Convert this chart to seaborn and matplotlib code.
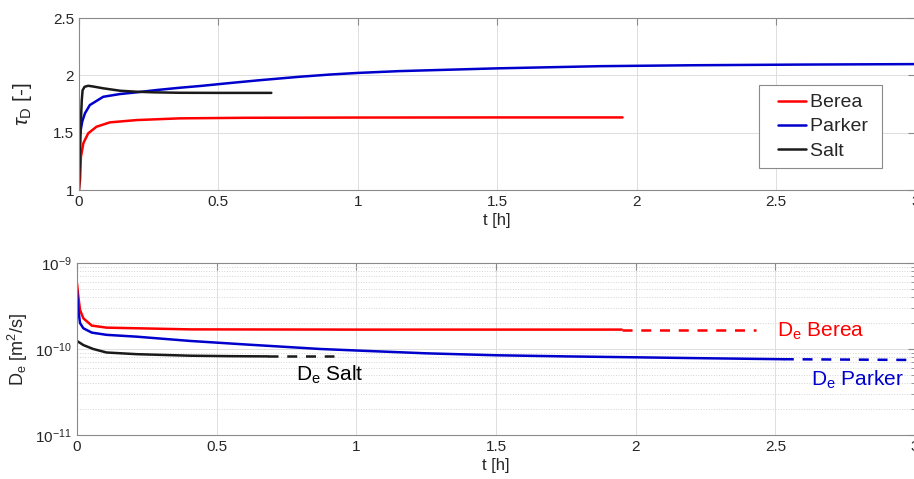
import matplotlib
matplotlib.use("Agg")
import matplotlib.pyplot as plt
import seaborn as sns
import pandas as pd
import numpy as np
from matplotlib.ticker import LogLocator, NullFormatter
from matplotlib.legend_handler import HandlerLine2D
from matplotlib.lines import Line2D

# --- tortuosity tau_D vs time ---
t_berea = [0, 0.002, 0.004, 0.007, 0.016, 0.033, 0.063, 0.111, 0.207, 0.362, 0.6, 1.0, 1.5, 1.95]
tau_berea = [1.0, 1.05, 1.09, 1.29, 1.41, 1.494, 1.552, 1.59, 1.61, 1.625, 1.63, 1.632, 1.633, 1.633]

t_parker = [0, 0.004, 0.012, 0.0215, 0.039, 0.087, 0.147, 0.207, 0.279, 0.362, 0.434,
            0.55, 0.65, 0.793, 0.9, 1.0, 1.15, 1.5, 1.87, 2.2, 2.6, 3.0]
tau_parker = [1.44, 1.494, 1.6, 1.669, 1.741, 1.813, 1.837, 1.852, 1.872, 1.892, 1.907,
              1.935, 1.958, 1.988, 2.007, 2.021, 2.037, 2.061, 2.08, 2.088, 2.094, 2.098]

t_salt = [0, 0.003, 0.007, 0.01, 0.013, 0.02, 0.033, 0.05, 0.087, 0.147, 0.207, 0.267, 0.36, 0.5, 0.69]
tau_salt = [1.0, 1.25, 1.61, 1.78, 1.87, 1.9, 1.909, 1.903, 1.887, 1.866, 1.857, 1.852, 1.848, 1.847, 1.847]

# --- effective diffusion De vs time ---
tde_berea = [0, 0.005, 0.011, 0.023, 0.053, 0.106, 0.405, 1.0, 1.95]
de_berea = [5.8e-10, 4.06e-10, 2.84e-10, 2.27e-10, 1.87e-10, 1.77e-10, 1.69e-10, 1.68e-10, 1.68e-10]
tde_berea_ext = [1.95, 2.43]
de_berea_ext = [1.68e-10, 1.68e-10]

tde_parker = [0, 0.005, 0.011, 0.023, 0.053, 0.106, 0.214, 0.405, 0.6, 0.87, 1.0, 1.25, 1.5,
              1.75, 2.0, 2.25, 2.53]
de_parker = [4.85e-10, 2.84e-10, 2.0e-10, 1.74e-10, 1.55e-10, 1.46e-10, 1.39e-10, 1.24e-10,
             1.13e-10, 1.0e-10, 9.6e-11, 8.9e-11, 8.45e-11, 8.2e-11, 8.0e-11, 7.8e-11, 7.6e-11]
tde_parker_ext = [2.53, 3.0]
de_parker_ext = [7.6e-11, 7.45e-11]

tde_salt = [0, 0.023, 0.058, 0.106, 0.214, 0.405, 0.55, 0.685]
de_salt = [1.24e-10, 1.11e-10, 1.0e-10, 9.1e-11, 8.7e-11, 8.35e-11, 8.25e-11, 8.2e-11]
tde_salt_ext = [0.685, 0.92]
de_salt_ext = [8.2e-11, 8.2e-11]

colors = {"Berea": "#ff0000", "Parker": "#0000cc", "Salt": "#1a1a1a"}

sns.set_style("white")
plt.rcParams["font.family"] = ["Liberation Sans", "DejaVu Sans"]
plt.rcParams["mathtext.fontset"] = "custom"
plt.rcParams["mathtext.rm"] = "Liberation Sans"
plt.rcParams["mathtext.it"] = "Liberation Sans:italic"

fig = plt.figure(figsize=(9.14, 4.79), dpi=100)
ax1 = fig.add_axes([0.0864, 0.6033, 0.915, 0.3591])
ax2 = fig.add_axes([0.0842, 0.0919, 0.917, 0.3591])

spine_c = "#8a8a8a"
text_c = "#262626"


def style_axes(ax):
    for s in ax.spines.values():
        s.set_color(spine_c)
        s.set_linewidth(0.8)
    ax.tick_params(direction="in", which="both", top=True, right=True,
                   colors=spine_c, labelcolor=text_c, labelsize=11)
    ax.tick_params(which="major", length=5)
    ax.grid(True, which="major", color="#dedede", linewidth=0.7)
    ax.set_axisbelow(True)


top = pd.concat([
    pd.DataFrame({"t": t_berea, "v": tau_berea, "rock": "Berea"}),
    pd.DataFrame({"t": t_parker, "v": tau_parker, "rock": "Parker"}),
    pd.DataFrame({"t": t_salt, "v": tau_salt, "rock": "Salt"}),
])
sns.lineplot(data=top, x="t", y="v", hue="rock", palette=colors, estimator=None,
             sort=False, linewidth=1.8, ax=ax1)
ax1.set_xlim(0, 3)
ax1.set_ylim(1, 2.5)
ax1.set_xticks([0, 0.5, 1, 1.5, 2, 2.5, 3])
ax1.set_xticklabels(["0", "0.5", "1", "1.5", "2", "2.5", "3"])
ax1.set_yticks([1, 1.5, 2, 2.5])
ax1.set_yticklabels(["1", "1.5", "2", "2.5"])
style_axes(ax1)
ax1.set_xlabel("t [h]", fontsize=12, color=text_c, labelpad=3)
ax1.set_ylabel(r"$\mathit{\tau}_{\mathrm{D}}$ [-]", fontsize=15, color=text_c, labelpad=14)

# matlab-like legend: small gap before each line sample
handles, labels = ax1.get_legend_handles_labels()
leg = ax1.legend(handles, [l + " " for l in labels], loc="upper left",
                 bbox_to_anchor=(0.813, 0.61), fontsize=14,
                 frameon=True, fancybox=False, framealpha=1, edgecolor=spine_c,
                 handlelength=1.97, handletextpad=0.2, borderpad=0.45, labelspacing=0.33,
                 borderaxespad=0, handler_map={Line2D: HandlerLine2D(xpad=0.53)})
leg.get_frame().set_linewidth(0.8)
for txt in leg.get_texts():
    txt.set_color(text_c)

bot = pd.concat([
    pd.DataFrame({"t": tde_berea, "v": de_berea, "rock": "Berea"}),
    pd.DataFrame({"t": tde_parker, "v": de_parker, "rock": "Parker"}),
    pd.DataFrame({"t": tde_salt, "v": de_salt, "rock": "Salt"}),
])
sns.lineplot(data=bot, x="t", y="v", hue="rock", palette=colors, estimator=None,
             sort=False, linewidth=1.8, ax=ax2, legend=False)
ext = [(tde_berea_ext, de_berea_ext, "Berea"),
       (tde_parker_ext, de_parker_ext, "Parker"),
       (tde_salt_ext, de_salt_ext, "Salt")]
for tx, vx, r in ext:
    sns.lineplot(x=tx, y=vx, color=colors[r], linestyle=(0, (4, 3.5)), linewidth=1.8,
                 ax=ax2, legend=False)
ax2.set_yscale("log")
ax2.set_xlim(0, 3)
ax2.set_ylim(1e-11, 1e-9)
ax2.set_xticks([0, 0.5, 1, 1.5, 2, 2.5, 3])
ax2.set_xticklabels(["0", "0.5", "1", "1.5", "2", "2.5", "3"])
ax2.yaxis.set_major_locator(LogLocator(base=10, numticks=5))
ax2.yaxis.set_minor_locator(LogLocator(base=10, subs=np.arange(2, 10), numticks=20))
ax2.yaxis.set_minor_formatter(NullFormatter())
style_axes(ax2)
ax2.tick_params(which="minor", length=3)
ax2.grid(True, which="minor", axis="y", color="#d4d4d4", linestyle=":", linewidth=0.7)
ax2.set_xlabel("t [h]", fontsize=12, color=text_c, labelpad=3)
ax2.set_ylabel(r"D$_\mathrm{e}$ [m$^2$/s]", fontsize=13, color=text_c, labelpad=4)

ax2.text(2.505, 1.6e-10, r"D$_\mathrm{e}$ Berea", color=colors["Berea"], fontsize=15, va="center")
ax2.text(2.627, 4.4e-11, r"D$_\mathrm{e}$ Parker", color=colors["Parker"], fontsize=15, va="center")
ax2.text(0.785, 5.0e-11, r"D$_\mathrm{e}$ Salt", color="#000000", fontsize=15, va="center")

fig.savefig("out.png", dpi=100)
